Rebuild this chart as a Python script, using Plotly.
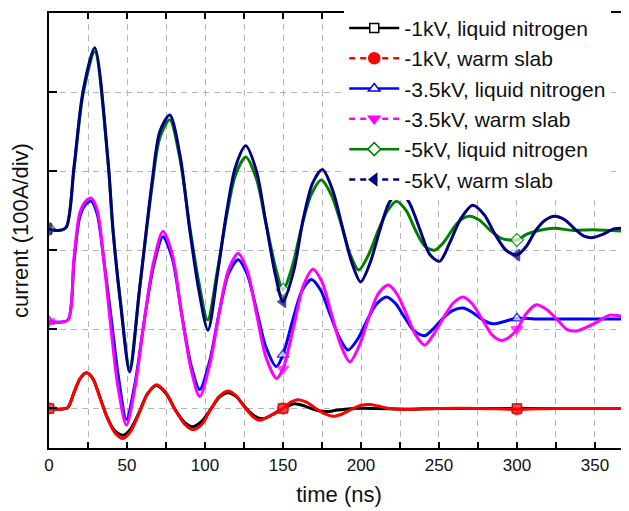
import plotly.graph_objects as go

# ---------------- data ----------------
# time in ns, current in divisions (100 A/div, traces are offset)
t_1kv_ln = [0, 6, 12, 16, 20, 24, 28, 33, 37, 42, 47.4, 52, 58, 63, 68.8, 75, 81, 87, 92.3, 98, 104, 109, 114.7, 120, 126, 132, 137.2, 143, 150, 157.5, 164, 171, 177.8, 185, 195, 210, 230, 250, 275, 300, 325, 350, 372]
y_1kv_ln = [0, -0.01, 0.01, 0.2, 0.38, 0.45, 0.38, 0.12, -0.1, -0.28, -0.34, -0.27, -0.04, 0.18, 0.29, 0.19, -0.02, -0.18, -0.23, -0.16, 0.0, 0.14, 0.20, 0.15, 0.01, -0.1, -0.13, -0.08, 0.0, 0.06, 0.03, -0.02, -0.04, -0.02, 0.0, 0.0, -0.01, 0.0, 0.0, 0.0, 0.0, 0.0, 0.0]

t_1kv_ws = [0, 6, 12, 16, 20, 24, 28, 33, 37, 42, 47.4, 52, 58, 63, 68.8, 75, 81, 87, 92.3, 98, 104, 109, 114.7, 120, 126, 131, 135, 141, 150, 155, 159.6, 165, 171, 177, 182, 188, 194, 200, 205.6, 211, 218, 230, 250, 275, 300, 325, 350, 372]
y_1kv_ws = [0, -0.01, 0.01, 0.2, 0.38, 0.45, 0.38, 0.12, -0.1, -0.3, -0.38, -0.3, -0.05, 0.18, 0.30, 0.2, -0.02, -0.2, -0.27, -0.2, 0.0, 0.15, 0.22, 0.16, 0.0, -0.11, -0.15, -0.1, 0.0, 0.08, 0.11, 0.08, 0.0, -0.07, -0.10, -0.07, -0.01, 0.04, 0.05, 0.03, 0.0, -0.01, 0.0, 0.0, -0.01, 0.0, 0.0, 0.0]

t_35kv_ln = [0, 6, 12.2, 16, 19.7, 23.5, 27.2, 31, 35, 40, 44.5, 49.6, 55, 61, 67, 73.1, 79, 85, 91, 96.6, 103, 109, 115, 121.2, 127, 133, 139, 145.8, 150, 156, 162, 168.2, 174, 180, 186, 191.7, 198, 204, 210, 216.3, 222, 228, 234, 240.8, 247, 253, 259, 265.4, 271, 278, 284.6, 292, 300, 315, 330, 345, 360, 372]
y_35kv_ln = [1.10, 1.09, 1.12, 1.85, 2.42, 2.58, 2.62, 2.45, 1.9, 1.12, 0.4, -0.14, 0.3, 1.1, 1.8, 2.17, 1.9, 1.2, 0.55, 0.24, 0.6, 1.2, 1.7, 1.88, 1.7, 1.25, 0.78, 0.53, 0.68, 1.1, 1.48, 1.63, 1.5, 1.2, 0.9, 0.74, 0.88, 1.12, 1.32, 1.41, 1.33, 1.15, 0.98, 0.92, 1.02, 1.15, 1.24, 1.27, 1.22, 1.12, 1.07, 1.1, 1.14, 1.13, 1.13, 1.13, 1.13, 1.13]

t_35kv_ws = [0, 6, 12.2, 16, 19.7, 23.5, 27.2, 31, 35, 39, 44, 49.6, 55, 61, 67, 73.1, 79, 85, 91, 96.6, 103, 109, 115, 121.2, 127, 133, 139, 145.8, 150, 157, 163, 169.2, 175, 181, 187, 192.8, 199, 205, 211, 217.3, 223, 229, 235, 240.8, 247, 253, 259, 265.4, 271, 278, 284, 290, 295, 300, 306, 312.4, 319, 326, 332, 338.1, 345, 352, 359.4, 366, 372]
y_35kv_ws = [1.10, 1.09, 1.12, 1.9, 2.47, 2.62, 2.66, 2.5, 1.9, 1.15, 0.3, -0.21, 0.25, 1.1, 1.85, 2.24, 1.95, 1.2, 0.5, 0.15, 0.55, 1.2, 1.75, 1.96, 1.75, 1.2, 0.65, 0.38, 0.5, 1.05, 1.55, 1.76, 1.6, 1.2, 0.8, 0.59, 0.8, 1.15, 1.45, 1.56, 1.45, 1.2, 0.93, 0.80, 0.95, 1.15, 1.33, 1.41, 1.33, 1.12, 0.93, 0.86, 0.9, 1.0, 1.2, 1.31, 1.25, 1.12, 1.0, 0.98, 1.03, 1.1, 1.18, 1.17, 1.16]

t_5kv_ln = [0, 6, 11, 16, 21.8, 29.3, 37.8, 41, 46, 51.7, 58, 66, 71, 77.4, 84, 90.2, 96, 101.7, 108, 114, 119.5, 126.1, 133, 139, 145, 150, 156, 162, 168, 174.6, 181, 187, 193, 198.5, 205, 211, 217, 222.7, 229, 235, 241, 247.2, 253, 260, 265, 269.7, 276, 283, 290, 300, 306, 312, 324, 336, 348.5, 360, 372]
y_5kv_ln = [2.27, 2.25, 2.29, 3.02, 3.97, 4.51, 3.12, 2.26, 1.32, 0.51, 1.5, 2.8, 3.42, 3.65, 3.15, 2.3, 1.6, 1.12, 1.75, 2.45, 2.95, 3.18, 2.9, 2.35, 1.8, 1.50, 1.8, 2.3, 2.7, 2.89, 2.7, 2.35, 1.95, 1.75, 1.95, 2.25, 2.5, 2.62, 2.5, 2.25, 2.05, 2.00, 2.1, 2.3, 2.4, 2.43, 2.38, 2.25, 2.15, 2.13, 2.2, 2.24, 2.28, 2.25, 2.26, 2.25, 2.24]

t_5kv_ws = [0, 6, 11, 16, 21.8, 29.3, 37.8, 41, 46, 51.7, 58, 66, 71, 77.4, 84, 90.2, 96, 101.9, 108, 114, 119.5, 126.1, 133, 139, 145, 150, 157, 163, 169, 175.3, 182, 188, 194, 199.8, 206, 212, 218, 224.8, 231, 238, 244, 250.4, 257, 264, 271.6, 279, 286, 293, 300, 306, 312, 318, 324.2, 331, 337, 343, 348.5, 355, 362, 372]
y_5kv_ws = [2.27, 2.25, 2.29, 3.05, 4.01, 4.56, 3.14, 2.26, 1.3, 0.46, 1.5, 2.85, 3.5, 3.71, 3.2, 2.26, 1.5, 0.99, 1.7, 2.5, 3.05, 3.32, 3.0, 2.35, 1.7, 1.35, 1.75, 2.4, 2.85, 3.02, 2.75, 2.3, 1.85, 1.60, 1.85, 2.25, 2.6, 2.75, 2.6, 2.25, 1.95, 1.86, 2.1, 2.4, 2.57, 2.45, 2.2, 2.0, 1.94, 2.05, 2.25, 2.38, 2.43, 2.38, 2.27, 2.18, 2.16, 2.2, 2.27, 2.28]

series_names = ["-1kV, liquid nitrogen", "-1kV, warm slab",
                "-3.5kV, liquid nitrogen", "-3.5kV, warm slab",
                "-5kV, liquid nitrogen", "-5kV, warm slab"]
marker_times = [0, 150, 300]

x_tick_vals = [0, 25, 50, 75, 100, 125, 150, 175, 200, 225, 250, 275, 300, 325, 350]
x_tick_text = ["0", "", "50", "", "100", "", "150", "", "200", "", "250", "", "300", "", "350"]
y_tick_vals = [0, 1, 2, 3, 4]

# ---------------- styling ----------------
styles = [
    dict(color="#000000", symbol="square", fill="white", dash="solid", size=9),
    dict(color="#ff0000", symbol="circle", fill="#ff0000", dash="6px,5px", size=11),
    dict(color="#0000ff", symbol="triangle-up", fill="white", dash="solid", size=10),
    dict(color="#ff00ff", symbol="triangle-down", fill="#ff00ff", dash="6px,5px", size=10),
    dict(color="#008000", symbol="diamond", fill="white", dash="solid", size=10),
    dict(color="#000080", symbol="triangle-left", fill="#000080", dash="6px,5px", size=10),
]
data = [(t_1kv_ln, y_1kv_ln), (t_1kv_ws, y_1kv_ws),
        (t_35kv_ln, y_35kv_ln), (t_35kv_ws, y_35kv_ws),
        (t_5kv_ln, y_5kv_ln), (t_5kv_ws, y_5kv_ws)]

FONT = "Arial, 'Liberation Sans', sans-serif"
fig = go.Figure()

for (tx, ty), name, st in zip(data, series_names, styles):
    sizes = [st["size"] if t in marker_times else 0 for t in tx]
    fig.add_trace(go.Scatter(
        x=tx, y=ty, name=name, mode="lines+markers", showlegend=False,
        line=dict(color=st["color"], width=3, shape="spline", smoothing=0.8),
        marker=dict(symbol=st["symbol"], size=sizes, color=st["fill"],
                    line=dict(color=st["color"], width=1.5)),
    ))

# legend proxies (no data drawn)
for name, st in zip(series_names, styles):
    fig.add_trace(go.Scatter(
        x=[None], y=[None], name=name, mode="lines+markers",
        line=dict(color=st["color"], width=2.5, dash=st["dash"]),
        marker=dict(symbol=st["symbol"], size=st["size"], color=st["fill"],
                    line=dict(color=st["color"], width=1.5)),
    ))

grid = dict(gridcolor="#b5b5b5", gridwidth=1, griddash="6px,5px")

# the page body has an 8px default margin, so the figure is offset by 8px;
# keep the figure inside the 629x511 window (621x503) to avoid scrollbars
fig.update_layout(
    width=621, height=503,
    margin=dict(l=41, r=0, t=5, b=63, autoexpand=False),
    paper_bgcolor="white", plot_bgcolor="white",
    font=dict(family=FONT, color="#111111"),
    xaxis=dict(
        range=[0, 371.8], tickvals=x_tick_vals, ticktext=x_tick_text,
        ticks="inside", ticklen=6, tickwidth=1.5, tickcolor="black",
        showline=True, linecolor="black", linewidth=2, mirror="ticks",
        tickfont=dict(size=17, family=FONT, color="#111111"),
        ticklabelstandoff=1, automargin=False,
        title=dict(text="time (ns)", font=dict(size=22, family=FONT), standoff=12),
        zeroline=False, showgrid=True, **grid,
    ),
    yaxis=dict(
        range=[-0.5, 5.0], tickvals=y_tick_vals, showticklabels=False,
        ticks="inside", ticklen=8, tickwidth=1.5, tickcolor="black",
        showline=True, linecolor="black", linewidth=2, mirror="ticks",
        automargin=False,
        title=dict(text="current (100A/div)", font=dict(size=22, family=FONT), standoff=22),
        zeroline=False, showgrid=True, **grid,
    ),
    legend=dict(
        x=0.509, y=1.012, xanchor="left", yanchor="top",
        bgcolor="white", borderwidth=0, itemwidth=50,
        font=dict(size=21, family=FONT, color="#111111"),
        tracegroupgap=0,
    ),
)

fig.write_html("out.html")
